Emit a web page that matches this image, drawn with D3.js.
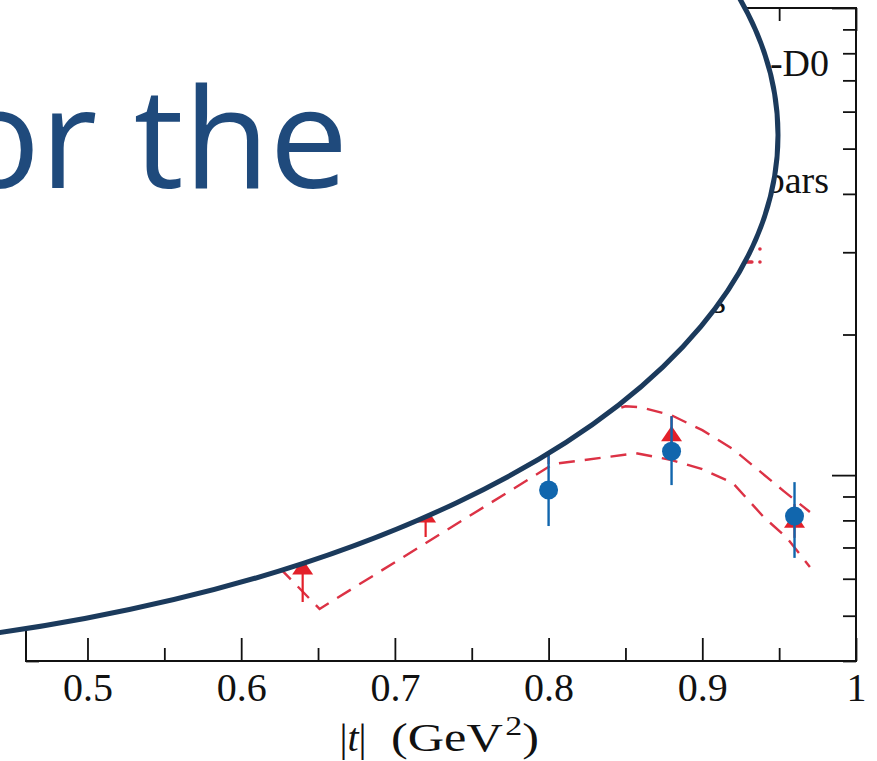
<!DOCTYPE html>
<html>
<head>
<meta charset="utf-8">
<script src="https://cdn.jsdelivr.net/npm/d3@7"></script>
<style>
  body { margin: 0; background: #fff; }
  svg { display: block; }
</style>
</head>
<body>
<div id="container"></div>
<script>
// Constants and globals
const width = 877,
  height = 761,
  margin = { top: 8, right: 21, bottom: 100, left: 26 },
  red = "#e3202a",
  blue = "#1166ad",
  bandColor = "#dc3245",
  navy = "#1b3a5c",
  serif = "'Liberation Serif', 'Times New Roman', serif"

// data: blue points (with error bars)
const blueT = [0.80, 0.88, 0.96]
const blueVal = [0.929, 1.125, 0.817]
const blueLo = [0.778, 0.952, 0.665]
const blueHi = [1.109, 1.337, 0.966]

// red triangles
const triT = [0.64, 0.72, 0.80, 0.88, 0.96]
const triVal = [0.633, 0.817, 1.194, 1.220, 0.797]
const triLo = [0.535, 0.737, 1.056, 1.114, 0.734]
const triHi = [0.748, 0.924, 1.35, 1.337, 0.867]

// dashed band
const lowT = [0.625, 0.651, 0.803, 0.857, 0.88, 0.90, 0.92, 0.94, 0.955, 0.97]
const lowVal = [0.633, 0.517, 1.056, 1.114, 1.077, 1.030, 0.961, 0.813, 0.734, 0.636]
const upT = [0.625, 0.72, 0.80, 0.85, 0.86, 0.88, 0.90, 0.92, 0.953, 0.97]
const upVal = [0.767, 0.933, 1.254, 1.404, 1.397, 1.343, 1.248, 1.137, 0.924, 0.834]

// ticks
const xMajor = [0.5, 0.6, 0.7, 0.8, 0.9, 1]
const xMinor = [0.55, 0.65, 0.75, 0.85, 0.95]
const yMajor = [1, 10]
const yMinor = [0.4, 0.5, 0.6, 0.7, 0.8, 0.9, 2, 3, 4, 5, 6, 7, 8, 9]

// scales
const xScale = d3.scaleLinear()
  .domain([0.46, 1])
  .range([margin.left, width - margin.right])

const yScale = d3.scaleLog()
  .domain([0.4, 10])
  .range([height - margin.bottom, margin.top])

const svg = d3.select("#container")
  .append("svg")
  .attr("width", width)
  .attr("height", height)

const x0 = margin.left, x1 = width - margin.right,
  y0 = margin.top, y1 = height - margin.bottom

// ticks on all four sides, pointing inwards
function ticks(axis, vals, size, tx, ty) {
  svg.append("g")
    .attr("transform", `translate(${tx},${ty})`)
    .call(axis.tickValues(vals).tickSize(size).tickFormat(""))
    .call(g => g.select(".domain").remove())
    .call(g => g.selectAll("line").attr("stroke", "#111").attr("stroke-width", 1.8))
}
ticks(d3.axisBottom(xScale), xMajor, -23, 0, y1)
ticks(d3.axisBottom(xScale), xMinor, -13, 0, y1)
ticks(d3.axisTop(xScale), xMajor, -23, 0, y0)
ticks(d3.axisTop(xScale), xMinor, -13, 0, y0)
ticks(d3.axisLeft(yScale), yMajor, 24, x1, 0)
ticks(d3.axisLeft(yScale), yMinor, 13, x1, 0)
ticks(d3.axisRight(yScale), yMajor, 24, x0, 0)
ticks(d3.axisRight(yScale), yMinor, 13, x0, 0)

// x tick labels
svg.append("g")
  .attr("transform", `translate(0,${y1})`)
  .call(d3.axisBottom(xScale).tickValues(xMajor).tickSize(0).tickPadding(12).tickFormat(d => d === 1 ? "1" : d3.format(".1f")(d)))
  .call(g => g.select(".domain").remove())
  .call(g => g.selectAll("text")
    .attr("font-family", serif)
    .attr("font-size", 40)
    .attr("fill", "#111"))

// frame
svg.append("rect")
  .attr("x", x0).attr("y", y0)
  .attr("width", x1 - x0).attr("height", y1 - y0)
  .attr("fill", "none").attr("stroke", "#111").attr("stroke-width", 2)

// x axis title
const tt = svg.append("text")
  .attr("x", 353).attr("y", 751)
  .attr("text-anchor", "middle")
  .attr("font-family", serif)
  .attr("font-size", 40)
  .attr("fill", "#111")
tt.append("tspan").text("|")
tt.append("tspan").attr("font-style", "italic").text("t")
tt.append("tspan").text("|")
const unit = svg.append("text")
  .attr("x", 391).attr("y", 751)
  .attr("font-family", serif)
  .attr("font-size", 40)
  .attr("fill", "#111")
  .attr("textLength", 148)
  .attr("lengthAdjust", "spacingAndGlyphs")
unit.append("tspan").text("(GeV")
unit.append("tspan").attr("font-size", 27).attr("dy", -16).attr("dx", 2).text("2")
unit.append("tspan").attr("dy", 16).text(")")

// dashed band
const line = d3.line().x(d => xScale(d[0])).y(d => yScale(d[1]))
const bands = [d3.zip(lowT, lowVal), d3.zip(upT, upVal)]
svg.selectAll(".band")
  .data(bands)
  .join("path")
  .attr("class", "band")
  .attr("d", line)
  .attr("fill", "none")
  .attr("stroke", bandColor)
  .attr("stroke-width", 2.4)
  .attr("stroke-dasharray", "16,10")

// red triangles
const tri = triT.map((t, i) => ({ t, v: triVal[i], lo: triLo[i], hi: triHi[i] }))
svg.selectAll(".tribar")
  .data(tri)
  .join("line")
  .attr("class", "tribar")
  .attr("x1", d => xScale(d.t)).attr("x2", d => xScale(d.t))
  .attr("y1", d => yScale(d.lo)).attr("y2", d => yScale(d.hi))
  .attr("stroke", red).attr("stroke-width", 2.2)
svg.selectAll(".tri")
  .data(tri)
  .join("path")
  .attr("class", "tri")
  .attr("d", "M0,-9L10.5,6.5L-10.5,6.5Z")
  .attr("transform", d => `translate(${xScale(d.t)},${yScale(d.v)})`)
  .attr("fill", red)

// blue circles
const pts = blueT.map((t, i) => ({ t, v: blueVal[i], lo: blueLo[i], hi: blueHi[i] }))
svg.selectAll(".bluebar")
  .data(pts)
  .join("line")
  .attr("class", "bluebar")
  .attr("x1", d => xScale(d.t)).attr("x2", d => xScale(d.t))
  .attr("y1", d => yScale(d.lo)).attr("y2", d => yScale(d.hi))
  .attr("stroke", blue).attr("stroke-width", 2.4)
svg.selectAll(".dot")
  .data(pts)
  .join("circle")
  .attr("class", "dot")
  .attr("cx", d => xScale(d.t))
  .attr("cy", d => yScale(d.v))
  .attr("r", 9.5)
  .attr("fill", blue)

// legend (mostly hidden under the callout)
svg.append("text").attr("x", 829).attr("y", 76).attr("text-anchor", "end")
  .attr("font-family", serif).attr("font-size", 38).attr("fill", "#111").text("-D0")
svg.append("text").attr("x", 829).attr("y", 193).attr("text-anchor", "end")
  .attr("font-family", serif).attr("font-size", 38).attr("fill", "#111").text("bars")
svg.append("text").attr("x", 726).attr("y", 313).attr("text-anchor", "end")
  .attr("font-family", serif).attr("font-size", 38).attr("fill", "#111").text("s")
;[249, 262].forEach(y => {
  svg.append("line")
    .attr("x1", 760).attr("x2", 690).attr("y1", y).attr("y2", y)
    .attr("stroke", bandColor).attr("stroke-width", 3.5)
    .attr("stroke-linecap", "round")
    .attr("stroke-dasharray", "0.1,8,6,6")
})

// callout ellipse with text
svg.append("ellipse")
  .attr("cx", -319).attr("cy", 135)
  .attr("rx", 1097).attr("ry", 520)
  .attr("fill", "#fff")
  .attr("stroke", navy)
  .attr("stroke-width", 5)

svg.append("text")
  .attr("x", -44).attr("y", 188)
  .attr("font-family", "'Open Sans', 'Noto Sans', sans-serif")
  .attr("font-size", 140)
  .attr("font-weight", 500)
  .attr("fill", "#1f4a7c")
  .text("or the")
</script>
</body>
</html>
